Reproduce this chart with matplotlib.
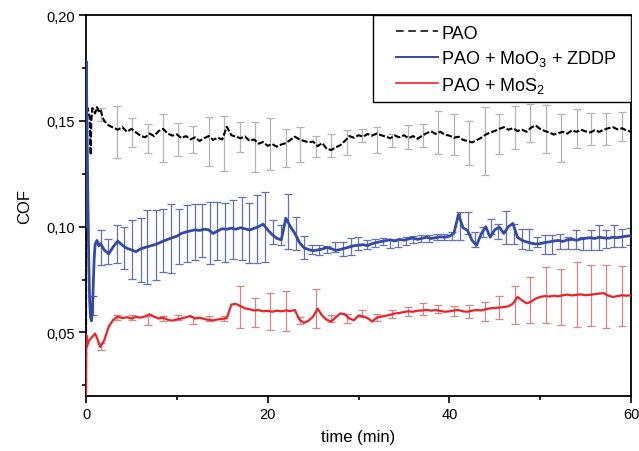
import numpy as np
import matplotlib
matplotlib.use("Agg")
import matplotlib.pyplot as plt
from matplotlib.ticker import MultipleLocator, FuncFormatter
from matplotlib.lines import Line2D
from matplotlib.patches import Rectangle

plt.rcParams['font.family'] = ['Liberation Sans', 'DejaVu Sans']
plt.rcParams['mathtext.default'] = 'regular'

# ---- data (COF vs time in min) ----
# start-up transients, then one value every 0.5 min from 2 to 60 min
pao_head_t = [0, 0.02, 0.1, 0.2, 0.3, 0.4, 0.48, 0.52, 0.58, 0.7, 0.85, 1.0, 1.2, 1.4, 1.6, 1.8]
pao_head = [0.022, 0.157, 0.1545, 0.156, 0.153, 0.152, 0.137, 0.134, 0.150, 0.156, 0.155, 0.1535,
            0.1565, 0.1545, 0.1555, 0.152]
pao_body = [0.1500, 0.1478, 0.1468, 0.1458, 0.1470, 0.1448, 0.1462, 0.1445, 0.1430, 0.1422,
            0.1440, 0.1428, 0.1452, 0.1462, 0.1440, 0.1430, 0.1436, 0.1418, 0.1428, 0.1412,
            0.1422, 0.1405, 0.1418, 0.1428, 0.1410, 0.1420, 0.1412, 0.1472, 0.1432, 0.1425,
            0.1418, 0.1426, 0.1405, 0.1412, 0.1392, 0.1400, 0.1382, 0.1390, 0.1378, 0.1388,
            0.1395, 0.1410, 0.1425, 0.1412, 0.1405, 0.1398, 0.1402, 0.1380, 0.1395, 0.1368,
            0.1362, 0.1375, 0.1385, 0.1405, 0.1428, 0.1420, 0.1432, 0.1425, 0.1438, 0.1430,
            0.1440, 0.1432, 0.1425, 0.1418, 0.1430, 0.1422, 0.1432, 0.1418, 0.1428, 0.1415,
            0.1430, 0.1442, 0.1450, 0.1438, 0.1448, 0.1435, 0.1430, 0.1420, 0.1425, 0.1410,
            0.1405, 0.1398, 0.1408, 0.1420, 0.1435, 0.1445, 0.1452, 0.1462, 0.1470, 0.1458,
            0.1465, 0.1452, 0.1458, 0.1448, 0.1468, 0.1478, 0.1462, 0.1452, 0.1445, 0.1435,
            0.1442, 0.1448, 0.1440, 0.1455, 0.1448, 0.1458, 0.1450, 0.1445, 0.1455, 0.1448,
            0.1458, 0.1465, 0.1470, 0.1460, 0.1465, 0.1455, 0.1448]

moo3_head_t = [0, 0.03, 0.1, 0.2, 0.3, 0.4, 0.5, 0.6, 0.7, 0.8, 0.9, 1.0, 1.2, 1.4, 1.6, 1.8]
moo3_head = [0.100, 0.178, 0.150, 0.115, 0.085, 0.065, 0.057, 0.0555, 0.060, 0.072, 0.085, 0.0915,
             0.0935, 0.0910, 0.0920, 0.0905]
moo3_body = [0.0890, 0.0872, 0.0905, 0.0932, 0.0912, 0.0898, 0.0890, 0.0882, 0.0895, 0.0902,
             0.0908, 0.0914, 0.0922, 0.0932, 0.0940, 0.0948, 0.0955, 0.0968, 0.0975, 0.0980,
             0.0985, 0.0982, 0.0988, 0.0985, 0.0968, 0.0980, 0.0990, 0.0988, 0.0993, 0.0988,
             0.0995, 0.0990, 0.0984, 0.0992, 0.1000, 0.1012, 0.0985, 0.0962, 0.0945, 0.0938,
             0.1040, 0.1000, 0.0968, 0.0925, 0.0900, 0.0892, 0.0886, 0.0890, 0.0894, 0.0902,
             0.0896, 0.0888, 0.0892, 0.0898, 0.0904, 0.0910, 0.0912, 0.0915, 0.0910, 0.0920,
             0.0925, 0.0930, 0.0934, 0.0938, 0.0932, 0.0940, 0.0936, 0.0942, 0.0946, 0.0940,
             0.0945, 0.0950, 0.0944, 0.0948, 0.0952, 0.0950, 0.0955, 0.0968, 0.1058, 0.0995,
             0.0982, 0.0935, 0.0912, 0.0965, 0.1000, 0.0950, 0.0985, 0.0998, 0.0968, 0.1000,
             0.1015, 0.0950, 0.0935, 0.0928, 0.0922, 0.0918, 0.0920, 0.0925, 0.0928, 0.0932,
             0.0935, 0.0930, 0.0938, 0.0940, 0.0936, 0.0942, 0.0945, 0.0948, 0.0944, 0.0950,
             0.0947, 0.0945, 0.0950, 0.0948, 0.0952, 0.0955, 0.0958]

mos2_head_t = [0, 0.03, 0.1, 0.3, 0.6, 1.0, 1.3, 1.55, 1.8]
mos2_head = [0.020, 0.0488, 0.0433, 0.0460, 0.0475, 0.0495, 0.0465, 0.0432, 0.0448]
mos2_body = [0.0462, 0.0528, 0.0560, 0.0575, 0.0568, 0.0572, 0.0566, 0.0574, 0.0570, 0.0576,
             0.0586, 0.0575, 0.0566, 0.0570, 0.0560, 0.0556, 0.0562, 0.0566, 0.0572, 0.0578,
             0.0566, 0.0570, 0.0564, 0.0560, 0.0557, 0.0562, 0.0564, 0.0568, 0.0632, 0.0635,
             0.0625, 0.0614, 0.0610, 0.0604, 0.0606, 0.0600, 0.0602, 0.0598, 0.0603, 0.0600,
             0.0604, 0.0601, 0.0606, 0.0560, 0.0546, 0.0556, 0.0575, 0.0612, 0.0580, 0.0560,
             0.0552, 0.0572, 0.0590, 0.0586, 0.0566, 0.0558, 0.0580, 0.0576, 0.0568, 0.0552,
             0.0570, 0.0575, 0.0579, 0.0584, 0.0590, 0.0592, 0.0597, 0.0600, 0.0598, 0.0603,
             0.0604, 0.0607, 0.0603, 0.0606, 0.0602, 0.0598, 0.0600, 0.0604, 0.0606, 0.0600,
             0.0598, 0.0603, 0.0606, 0.0604, 0.0610, 0.0614, 0.0616, 0.0618, 0.0620, 0.0624,
             0.0636, 0.0668, 0.0652, 0.0638, 0.0645, 0.0660, 0.0668, 0.0672, 0.0670, 0.0674,
             0.0671, 0.0676, 0.0679, 0.0675, 0.0678, 0.0680, 0.0676, 0.0678, 0.0681, 0.0684,
             0.0686, 0.0674, 0.0668, 0.0672, 0.0676, 0.0674, 0.0676]

# error bars (time, mean, half width)
bar_t = [1.7, 3.4, 5.1, 6.8, 8.5, 10.1, 11.8, 13.5, 15.2, 16.9, 18.6, 20.3, 22.0, 23.6, 25.3,
         27.0, 28.7, 30.4, 32.0, 33.7, 35.4, 37.1, 38.8, 40.5, 42.2, 43.9, 45.5, 47.2, 48.9,
         50.6, 52.3, 54.0, 55.6, 57.3, 59.0]
pao_bar = [0.1530, 0.1449, 0.1446, 0.1417, 0.1420, 0.1413, 0.1413, 0.1402, 0.1395, 0.1423,
           0.1376, 0.1389, 0.1373, 0.1389, 0.1377, 0.1383, 0.1398, 0.1430, 0.1410, 0.1407,
           0.1425, 0.1432, 0.1446, 0.1435, 0.1395, 0.1403, 0.1439, 0.1469, 0.1490, 0.1461,
           0.1419, 0.1464, 0.1462, 0.1462, 0.1474]
pao_err = [0.0030, 0.0123, 0.0068, 0.0068, 0.0113, 0.0078, 0.0064, 0.0114, 0.0130, 0.0071,
           0.0118, 0.0123, 0.0090, 0.0084, 0.0049, 0.0055, 0.0061, 0.0030, 0.0061, 0.0031,
           0.0057, 0.0054, 0.0102, 0.0098, 0.0106, 0.0161, 0.0094, 0.0101, 0.0090, 0.0112,
           0.0114, 0.0093, 0.0075, 0.0075, 0.0067]
mos2_bar = [0.0432, 0.0571, 0.0571, 0.0557, 0.0566, 0.0571, 0.0558, 0.0566, 0.0566, 0.0621,
            0.0596, 0.0600, 0.0603, 0.0557, 0.0613, 0.0566, 0.0568, 0.0590, 0.0571, 0.0587,
            0.0600, 0.0611, 0.0611, 0.0602, 0.0601, 0.0599, 0.0620, 0.0631, 0.0653, 0.0678,
            0.0667, 0.0679, 0.0675, 0.0671, 0.0673]
mos2_err = [0.0017, 0.0013, 0.0010, 0.0022, 0.0010, 0.0014, 0.0016, 0.0014, 0.0010, 0.0098,
            0.0069, 0.0086, 0.0094, 0.0015, 0.0091, 0.0015, 0.0021, 0.0016, 0.0018, 0.0018,
            0.0021, 0.0026, 0.0021, 0.0024, 0.0031, 0.0046, 0.0054, 0.0089, 0.0110, 0.0132,
            0.0132, 0.0152, 0.0143, 0.0149, 0.0142]

moo3_bar_t = [0.77, 1.62, 2.42, 3.45, 4.19, 5.10, 6.02, 6.75, 7.68, 8.51, 9.33, 10.24, 11.16,
              11.97, 12.81, 13.66, 14.46, 15.31, 16.22, 17.15, 17.98, 18.80, 19.71, 20.56, 21.44,
              22.28, 23.13, 24.01, 24.86, 25.69, 26.57, 27.42, 28.34, 29.15, 29.99, 30.9, 31.8,
              32.65, 33.5, 34.35, 35.2, 36.05, 36.9, 37.75, 38.6, 39.45, 40.3, 41.15, 42.0,
              42.85, 43.7, 44.55, 45.4, 46.25, 47.1, 47.95, 48.8, 49.65, 50.5, 51.35, 52.2,
              53.05, 53.9, 54.75, 55.6, 56.45, 57.3, 58.15, 59.0, 59.85]
moo3_bar = [0.0626, 0.0902, 0.0881, 0.0917, 0.0900, 0.0894, 0.0891, 0.0902, 0.0913, 0.0936,
            0.0942, 0.0954, 0.0967, 0.0975, 0.0983, 0.0971, 0.0979, 0.0973, 0.0987, 0.0991,
            0.0969, 0.0987, 0.0999, 0.0976, 0.0959, 0.1026, 0.0967, 0.0902, 0.0892, 0.0888,
            0.0892, 0.0904, 0.0894, 0.0906, 0.0920, 0.0916, 0.0924, 0.0930, 0.0918, 0.0924,
            0.0932, 0.0939, 0.0943, 0.0943, 0.0951, 0.0950, 0.0955, 0.1002, 0.1018, 0.0940,
            0.0975, 0.1002, 0.0979, 0.0997, 0.0967, 0.0943, 0.0939, 0.0928, 0.0914, 0.0916,
            0.0930, 0.0924, 0.0939, 0.0920, 0.0935, 0.0949, 0.0942, 0.0955, 0.0947, 0.0954]
moo3_err = [0.0045, 0.0084, 0.0059, 0.0089, 0.0098, 0.0139, 0.0152, 0.0175, 0.0167, 0.0149,
            0.0163, 0.0131, 0.0133, 0.0134, 0.0126, 0.0146, 0.0138, 0.0139, 0.0138, 0.0150,
            0.0143, 0.0161, 0.0165, 0.0057, 0.0047, 0.0130, 0.0079, 0.0053, 0.0020, 0.0024,
            0.0016, 0.0024, 0.0034, 0.0042, 0.0032, 0.0020, 0.0020, 0.0018, 0.0017, 0.0020,
            0.0020, 0.0016, 0.0016, 0.0016, 0.0016, 0.0014, 0.0020, 0.0067, 0.0051, 0.0035,
            0.0024, 0.0035, 0.0035, 0.0077, 0.0047, 0.0047, 0.0051, 0.0024, 0.0045, 0.0043,
            0.0034, 0.0028, 0.0043, 0.0032, 0.0047, 0.0061, 0.0041, 0.0051, 0.0043, 0.0042]

labels = ['PAO', 'PAO + MoO$_3$ + ZDDP', 'PAO + MoS$_2$']

pao_t = pao_head_t + list(np.linspace(2, 60, len(pao_body)))
moo3_t = moo3_head_t + list(np.linspace(2, 60, len(moo3_body)))
mos2_t = mos2_head_t + list(np.linspace(2, 60, len(mos2_body)))

fig = plt.figure(figsize=(6.39, 4.52), dpi=100)
ax = fig.add_axes([0.1346, 0.1217, 0.8529, 0.8429])

# error bars underneath the curves
ax.errorbar(bar_t, pao_bar, yerr=pao_err, fmt='none', ecolor='#b4b4b4',
            elinewidth=0.9, capsize=2.6, capthick=0.9, zorder=1)
ax.errorbar(moo3_bar_t, moo3_bar, yerr=moo3_err, fmt='none', ecolor='#6470bb',
            elinewidth=0.9, capsize=2.6, capthick=0.9, zorder=1)
ax.errorbar(bar_t, mos2_bar, yerr=mos2_err, fmt='none', ecolor='#d98585',
            elinewidth=0.9, capsize=2.6, capthick=0.9, zorder=1)

ax.plot(pao_t, pao_head + pao_body, color='black', lw=1.5, ls=(0, (3, 1)), zorder=3)
ax.plot(moo3_t, moo3_head + moo3_body, color='#3448a6', lw=2.0, zorder=3)
ax.plot(mos2_t, mos2_head + mos2_body, color='#ec2227', lw=1.6, zorder=3)

ax.set_xlim(0, 60)
ax.set_ylim(0.02, 0.20)
ax.xaxis.set_major_locator(MultipleLocator(20))
ax.xaxis.set_minor_locator(MultipleLocator(10))
ax.yaxis.set_major_locator(MultipleLocator(0.05))
ax.yaxis.set_minor_locator(MultipleLocator(0.025))
ax.yaxis.set_major_formatter(FuncFormatter(lambda v, p: ('%.2f' % v).replace('.', ',')))
ax.tick_params(which='major', direction='out', length=5, width=1.2, labelsize=10.5, pad=3)
ax.tick_params(which='minor', direction='out', length=3, width=1.2)
for s in ax.spines.values():
    s.set_linewidth(1.3)

ax.set_xlabel('time (min)', fontsize=12, labelpad=6)
ax.set_ylabel('COF', fontsize=12, labelpad=10)

# legend box flush with the top right corner
ax.add_patch(Rectangle((0.5266, 0.771), 0.4734, 0.229, transform=ax.transAxes,
                       facecolor='white', edgecolor='black', lw=1.0, zorder=5))
handles = [Line2D([], [], color='black', lw=1.1, ls=(0, (5, 3))),
           Line2D([], [], color='#3448a6', lw=1.4),
           Line2D([], [], color='#ec2227', lw=1.2)]
leg = ax.legend(handles, labels, loc='upper left', bbox_to_anchor=(0.569, 0.975),
                fontsize=13, frameon=False, borderaxespad=0, borderpad=0,
                handlelength=2.3, handletextpad=0.2, labelspacing=0.36)
leg.set_zorder(6)

fig.savefig('out.png', dpi=100)
